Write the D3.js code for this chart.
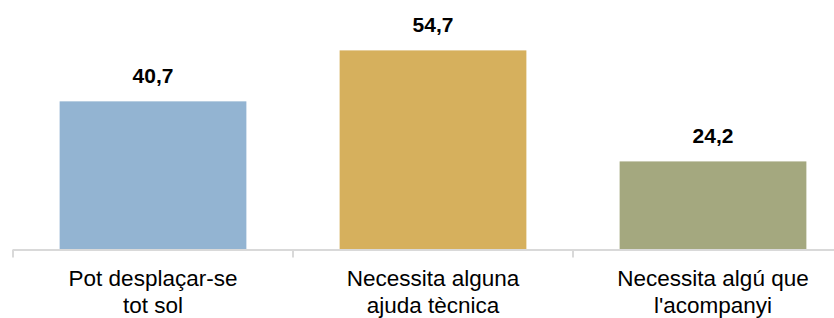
<!DOCTYPE html>
<html>
<head>
<meta charset="utf-8">
<script src="https://cdn.jsdelivr.net/npm/d3@7"></script>
<style>
  html, body { margin: 0; padding: 0; background: #fff; }
  svg { display: block; font-family: "Liberation Sans", Arial, sans-serif; }
</style>
</head>
<body>
<svg id="chart" width="834" height="318"></svg>
<script>
const categories = [
  ["Pot desplaçar-se", "tot sol"],
  ["Necessita alguna", "ajuda tècnica"],
  ["Necessita algú que", "l'acompanyi"]
];
const values = [40.7, 54.7, 24.2];
const valueLabels = ["40,7", "54,7", "24,2"];
const colors = ["#93b4d2", "#d6b05d", "#a4a87f"];

const svg = d3.select("#chart");
const baseY = 249.5;
const x = d3.scaleBand()
  .domain(d3.range(categories.length))
  .range([13, 853])
  .paddingInner(0.333)
  .paddingOuter(0.1665);
const y = d3.scaleLinear().domain([0, 60]).range([baseY, baseY - 218.4]);

// bars
svg.selectAll("rect.bar").data(values).join("rect")
  .attr("class", "bar")
  .attr("x", (d, i) => x(i))
  .attr("width", x.bandwidth())
  .attr("y", d => y(d))
  .attr("height", d => y(0) - y(d))
  .attr("fill", (d, i) => colors[i]);

// axis line and ticks
const axisColor = "#d9d9d9";
svg.append("line")
  .attr("x1", 13).attr("x2", 834)
  .attr("y1", baseY + 0.5).attr("y2", baseY + 0.5)
  .attr("stroke", axisColor).attr("stroke-width", 2);
const step = x.step();
const tickXs = d3.range(categories.length).map(i => x(i) - x.paddingOuter() * step);
svg.selectAll("line.tick").data(tickXs).join("line")
  .attr("class", "tick")
  .attr("x1", d => d).attr("x2", d => d)
  .attr("y1", baseY).attr("y2", baseY + 8)
  .attr("stroke", axisColor).attr("stroke-width", 2);

// value labels
svg.selectAll("text.val").data(values).join("text")
  .attr("class", "val")
  .attr("x", (d, i) => x(i) + x.bandwidth() / 2)
  .attr("y", d => y(d) - 18.5)
  .attr("text-anchor", "middle")
  .attr("font-size", 21)
  .attr("font-weight", "bold")
  .attr("fill", "#000")
  .text((d, i) => valueLabels[i]);

// category labels
const cat = svg.selectAll("text.cat").data(categories).join("text")
  .attr("class", "cat")
  .attr("text-anchor", "middle")
  .attr("font-size", 22.5)
  .attr("fill", "#000");
cat.selectAll("tspan").data((d, i) => d.map(t => ({ t, i }))).join("tspan")
  .attr("x", d => x(d.i) + x.bandwidth() / 2)
  .attr("y", (d, j) => 286 + j * 27)
  .text(d => d.t);
</script>
</body>
</html>
